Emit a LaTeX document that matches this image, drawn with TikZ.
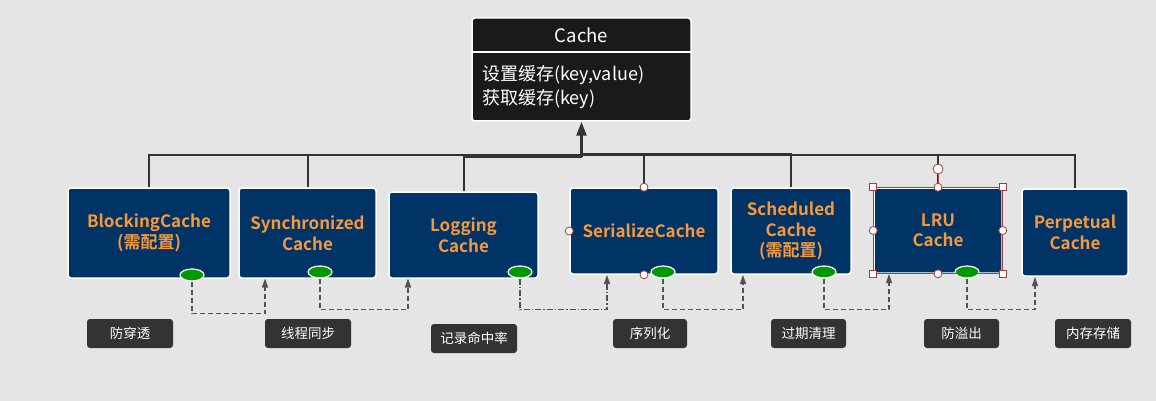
\documentclass[tikz,border=0pt]{standalone}
\usepackage{fontspec}
\setmainfont{Noto Sans CJK SC}[BoldFont={Noto Sans CJK SC Bold}]
\usetikzlibrary{arrows.meta,shapes.geometric}
\definecolor{bg}{HTML}{E5E5E5}
\definecolor{navy}{HTML}{003366}
\definecolor{orng}{HTML}{F7993A}
\definecolor{grn}{HTML}{009900}
\definecolor{lbl}{HTML}{333333}
\definecolor{blk}{HTML}{1A1A1A}
\definecolor{conn}{HTML}{333333}
\definecolor{hdl}{HTML}{A04040}
\tikzset{
  cachebox/.style={draw=white, line width=1.5pt, fill=blk, rounded corners=3pt, minimum width=219pt, minimum height=103pt},
  child/.style={draw=white, line width=1.5pt, fill=navy, rounded corners=3pt, text=orng, font=\bfseries\fontsize{17}{20.5}\selectfont, align=center, inner sep=0pt},
  dot/.style={ellipse, draw=white, line width=1.2pt, fill=grn, minimum width=24pt, minimum height=12pt, inner sep=0pt},
  tag/.style={fill=lbl, rounded corners=3pt, text=white, font=\fontsize{13.5}{15}\selectfont, minimum width=86pt, minimum height=29pt, inner sep=0pt},
  hubline/.style={draw=conn, line width=2pt},
  dconn/.style={draw=conn!85, line width=1.2pt, dash pattern=on 5pt off 3pt},
  ddconn/.style={draw=conn!85, line width=1.2pt, dash pattern=on 6pt off 2pt on 1.5pt off 2pt},
  tip/.style={-{Triangle[length=9pt,width=6pt]}},
  bigtip/.style={-{Triangle[length=14pt,width=10pt]}},
  hsq/.style={draw=hdl, fill=white, line width=0.8pt, minimum size=7pt, inner sep=0pt},
  hci/.style={circle, draw=hdl, fill=white, line width=0.8pt, minimum size=8pt, inner sep=0pt},
}
\begin{document}
\begin{tikzpicture}[x=1pt,y=-1pt]
\path[fill=bg] (0,0) rectangle (1156,401);
\useasboundingbox (0,0) rectangle (1156,401);

% Cache class box
\node[cachebox] (cache) at (581.5,69.5) {};
\draw[white, line width=1.5pt] (cache.west |- 0,52) -- (cache.east |- 0,52);
\node[text=white, font=\fontsize{18.5}{20}\selectfont] (ctitle) at (581.5,35) {Cache};
\node[text=white, font=\fontsize{18}{23.5}\selectfont, align=left, anchor=west, inner sep=0pt] (cmeth) at (482,87) {设置缓存(key,value)\\获取缓存(key)};

% children
\node[child, minimum width=162pt, minimum height=90pt] (b1) at (149,233) {BlockingCache\\(需配置)};
\node[child, minimum width=137pt, minimum height=90pt] (b2) at (307.5,233) {Synchronized\\Cache};
\node[child, minimum width=149pt, minimum height=86pt] (b3) at (463.5,235) {Logging\\Cache};
\node[child, minimum width=148pt, minimum height=86pt] (b4) at (644,231) {SerializeCache};
\node[child, minimum width=120pt, minimum height=86pt] (b5) at (791,231) {Scheduled\\Cache\\(需配置)};
\node[child, minimum width=128pt, minimum height=85pt] (b6) at (938,230.5) {LRU\\Cache};
\node[child, minimum width=106pt, minimum height=87pt] (b7) at (1075,232.5) {Perpetual\\Cache};

% hub connectors
\coordinate (hub) at (581.5,155);
\coordinate (hubL) at (581.5,157);
\coordinate (hubR) at (581.5,154);
\draw[hubline] (b1.north) |- (hub);
\draw[hubline] (b2.north) |- (hub);
\draw[hubline] (b3.north) |- (hubL);
\draw[hubline] (b4.north) |- (hubR);
\draw[hubline] (b5.north) |- (hubR);
\draw[hubline] (b6.north) |- (hub);
\draw[hubline] (b7.north) |- (hub);
\draw[hubline, line width=2.5pt, bigtip] (hubL) -- (cache.south);

% green dots
\node[dot] (e1) at (192,275) {};
\node[dot] (e2) at (320,272) {};
\node[dot] (e3) at (520,272) {};
\node[dot] (e4) at (663,272) {};
\node[dot] (e5) at (824,272) {};
\node[dot] (e6) at (967,272) {};

% targets
\coordinate (t1) at (265,278.5);
\coordinate (t2) at (408,278.5);
\coordinate (t3) at (607,275);
\coordinate (t4) at (743,275);
\coordinate (t5) at (889,274);
\coordinate (t6) at (1035,277);

\draw[dconn, tip] (e1.south) -- ++(0,32) -| (t1);
\draw[dconn, tip] (e2.south) -- ++(0,31) -| (t2);
\draw[ddconn, tip] (e3.south) -- ++(0,31) -| (t3);
\draw[dconn, tip] (e4.south) -- ++(0,31) -| (t4);
\draw[dconn, tip] (e5.south) -- ++(0,31) -| (t5);
\draw[dconn, tip] (e6.south) -- ++(0,31) -| (t6);

% tags
\node[tag] (l1) at (130,333.5) {防穿透};
\node[tag] (l2) at (308,333.5) {线程同步};
\node[tag] (l3) at (474,338.5) {记录命中率};
\node[tag, minimum width=74pt] (l4) at (650,333.5) {序列化};
\node[tag, minimum width=75pt] (l5) at (808.5,333.5) {过期清理};
\node[tag, minimum width=75pt] (l6) at (961.5,333.5) {防溢出};
\node[tag, minimum width=76pt] (l7) at (1093,333.5) {内存存储};

% selection handles on LRU Cache
\draw[hdl, line width=0.8pt] (b6.south west) rectangle (b6.north east);
\coordinate (rot) at (938,169);
\draw[hdl, line width=0.8pt] (b6.north) -- (rot);
\node[hci, minimum size=10pt] (hr) at (rot) {};
\node[hsq] (h1) at (b6.north west) {};
\node[hsq] (h2) at (b6.north east) {};
\node[hsq] (h3) at (b6.south west) {};
\node[hsq] (h4) at (b6.south east) {};
\node[hci] (h5) at (b6.north) {};
\node[hci] (h6) at (b6.south) {};
\node[hci] (h7) at (b6.west) {};
\node[hci] (h8) at (b6.east) {};
% handles on SerializeCache
\node[hci] (s1) at (b4.north) {};
\node[hci] (s2) at (b4.west) {};
\node[hci] (s3) at (b4.south) {};
\end{tikzpicture}
\end{document}
